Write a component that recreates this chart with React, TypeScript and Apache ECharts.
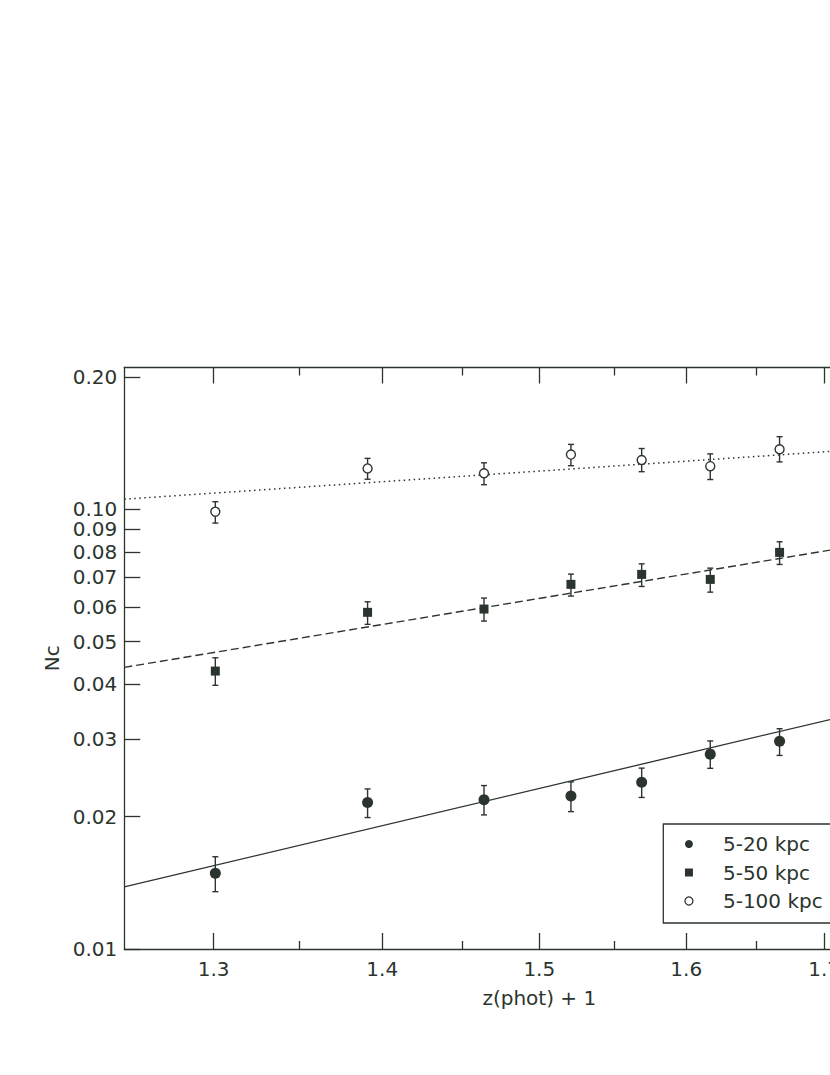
import React, { useEffect, useRef } from "react";
import * as echarts from "echarts";

// ---- data ----
const X_VALUES = [1.301, 1.391, 1.464, 1.521, 1.569, 1.617, 1.667];

const NC_20 = [0.01486, 0.02154, 0.02185, 0.02227, 0.02394, 0.02774, 0.02968];
const NC_20_LO = [0.0135, 0.0199, 0.02018, 0.02053, 0.02211, 0.02575, 0.02755];
const NC_20_HI = [0.01621, 0.02312, 0.02353, 0.02399, 0.02578, 0.02972, 0.03169];

const NC_50 = [0.04285, 0.05828, 0.05929, 0.06747, 0.07108, 0.06925, 0.07977];
const NC_50_LO = [0.03977, 0.05472, 0.05568, 0.06346, 0.06673, 0.06478, 0.07489];
const NC_50_HI = [0.04594, 0.06159, 0.0628, 0.0712, 0.07513, 0.07345, 0.08433];

const NC_100 = [0.0987, 0.1238, 0.1207, 0.1331, 0.1294, 0.1253, 0.1369];
const NC_100_LO = [0.093, 0.117, 0.1137, 0.1256, 0.1217, 0.1168, 0.1281];
const NC_100_HI = [0.104, 0.1305, 0.1275, 0.1404, 0.1374, 0.1336, 0.1462];

// fitted power laws (end points)
const FIT_X = [1.25, 1.8];
const FIT_20 = [0.01385, 0.03879];
const FIT_50 = [0.04369, 0.08994];
const FIT_100 = [0.1054, 0.1414];

const SERIES_NAMES = ["5-20 kpc", "5-50 kpc", "5-100 kpc"];

const X_MIN = 1.25;
const X_MAX = 1.8;
const Y_MIN = 0.01;
const Y_MAX = 0.21;
const X_TICKS = [1.3, 1.4, 1.5, 1.6, 1.7, 1.8];
const X_MINOR_TICKS = [1.35, 1.45, 1.55, 1.65, 1.75];
const Y_TICKS = [0.01, 0.02, 0.03, 0.04, 0.05, 0.06, 0.07, 0.08, 0.09, 0.1, 0.2];

const X_TITLE = "z(phot) + 1";
const Y_TITLE = "Nc";

const C = "#2b352e";
const FONT = "DejaVu Sans";

const lg = (v: number) => Math.log10(v);

function pairs(xs: number[], ys: number[]) {
  return xs.map((x, i) => [lg(x), lg(ys[i])]);
}
function bars(xs: number[], lo: number[], hi: number[]) {
  return xs.map((x, i) => [lg(x), lg(lo[i]), lg(hi[i])]);
}

const errorRender = (params: any, api: any) => {
  const x = api.value(0);
  const p1 = api.coord([x, api.value(1)]);
  const p2 = api.coord([x, api.value(2)]);
  const cap = 3;
  const style = { stroke: C, lineWidth: 1.4 };
  return {
    type: "group",
    children: [
      { type: "line", shape: { x1: p1[0], y1: p1[1], x2: p2[0], y2: p2[1] }, style },
      { type: "line", shape: { x1: p1[0] - cap, y1: p1[1], x2: p1[0] + cap, y2: p1[1] }, style },
      { type: "line", shape: { x1: p2[0] - cap, y1: p2[1], x2: p2[0] + cap, y2: p2[1] }, style },
    ],
  };
};

const SQUARE = "path://M0,0L10,0L10,10L0,10Z";

export default function App() {
  const ref = useRef<HTMLDivElement>(null);

  useEffect(() => {
    if (!ref.current) return;
    const chart = echarts.init(ref.current, undefined, { renderer: "svg" });

    const axisLine = { show: true, onZero: false, lineStyle: { color: C, width: 1.3 } };
    const tickStyle = { color: C, width: 1.3 };
    const labelText = { color: C, fontSize: 20, fontFamily: FONT };

    const xBase = {
      type: "value",
      min: lg(X_MIN),
      max: lg(X_MAX),
      splitLine: { show: false },
      axisLine,
    };
    const yBase = {
      type: "value",
      min: lg(Y_MIN),
      max: lg(Y_MAX),
      splitLine: { show: false },
      axisLine,
    };

    const option: any = {
      animation: false,
      backgroundColor: "#ffffff",
      grid: {
        left: 124.3,
        top: 367.5,
        width: 830,
        height: 581.5,
        containLabel: false,
        outerBoundsMode: "none",
      },
      xAxis: [
        {
          ...xBase,
          position: "bottom",
          axisTick: { show: true, inside: true, length: 16, customValues: X_TICKS.map(lg), lineStyle: tickStyle },
          axisLabel: {
            show: true,
            customValues: X_TICKS.map(lg),
            formatter: (v: number) => Math.pow(10, v).toFixed(1),
            margin: 10,
            ...labelText,
          },
          name: X_TITLE,
          nameLocation: "middle",
          nameGap: 39,
          nameTextStyle: labelText,
        },
        {
          ...xBase,
          position: "bottom",
          axisLine: { show: false },
          axisTick: { show: true, inside: true, length: 8, customValues: X_MINOR_TICKS.map(lg), lineStyle: tickStyle },
          axisLabel: { show: false },
        },
        {
          ...xBase,
          position: "top",
          axisTick: { show: true, inside: true, length: 16, customValues: X_TICKS.map(lg), lineStyle: tickStyle },
          axisLabel: { show: false },
        },
        {
          ...xBase,
          position: "top",
          axisLine: { show: false },
          axisTick: { show: true, inside: true, length: 8, customValues: X_MINOR_TICKS.map(lg), lineStyle: tickStyle },
          axisLabel: { show: false },
        },
      ],
      yAxis: [
        {
          ...yBase,
          position: "left",
          axisTick: { show: true, inside: true, length: 16, customValues: Y_TICKS.map(lg), lineStyle: tickStyle },
          axisLabel: {
            show: true,
            customValues: Y_TICKS.map(lg),
            formatter: (v: number) => Math.pow(10, v).toFixed(2),
            margin: 7,
            ...labelText,
          },
          name: Y_TITLE,
          nameLocation: "middle",
          nameGap: 58,
          nameTextStyle: labelText,
        },
        {
          ...yBase,
          position: "right",
          axisTick: { show: true, inside: true, length: 16, customValues: Y_TICKS.map(lg), lineStyle: tickStyle },
          axisLabel: { show: false },
        },
      ],
      legend: {
        left: 663.3,
        top: 824,
        orient: "vertical",
        padding: [10, 70, 12, 21],
        itemWidth: 52,
        itemHeight: 8,
        itemGap: 8.5,
        borderColor: C,
        borderWidth: 1.3,
        backgroundColor: "#ffffff",
        selectedMode: false,
        textStyle: { color: C, fontSize: 20, fontFamily: FONT, padding: [0, 0, 0, 3] },
        data: [
          { name: SERIES_NAMES[0], icon: "circle", itemStyle: { color: C, borderWidth: 0 } },
          { name: SERIES_NAMES[1], icon: SQUARE, itemStyle: { color: C, borderWidth: 0 } },
          {
            name: SERIES_NAMES[2],
            icon: "circle",
            itemStyle: { color: "#ffffff", borderColor: C, borderWidth: 1.3 },
          },
        ],
      },
      series: [
        {
          type: "line",
          data: pairs(FIT_X, FIT_20),
          symbol: "none",
          lineStyle: { color: C, width: 1.3, type: "solid" },
          z: 1,
          silent: true,
        },
        {
          type: "line",
          data: pairs(FIT_X, FIT_50),
          symbol: "none",
          lineStyle: { color: C, width: 1.4, type: [8, 4] },
          z: 1,
          silent: true,
        },
        {
          type: "line",
          data: pairs(FIT_X, FIT_100),
          symbol: "none",
          lineStyle: { color: C, width: 1.5, type: [1.5, 3.5] },
          z: 1,
          silent: true,
        },
        { type: "custom", renderItem: errorRender, data: bars(X_VALUES, NC_20_LO, NC_20_HI), encode: { x: 0, y: [1, 2] }, z: 2, silent: true },
        { type: "custom", renderItem: errorRender, data: bars(X_VALUES, NC_50_LO, NC_50_HI), encode: { x: 0, y: [1, 2] }, z: 2, silent: true },
        { type: "custom", renderItem: errorRender, data: bars(X_VALUES, NC_100_LO, NC_100_HI), encode: { x: 0, y: [1, 2] }, z: 2, silent: true },
        {
          name: SERIES_NAMES[0],
          type: "scatter",
          data: pairs(X_VALUES, NC_20),
          symbol: "circle",
          symbolSize: 11,
          itemStyle: { color: C, opacity: 1 },
          z: 3,
        },
        {
          name: SERIES_NAMES[1],
          type: "scatter",
          data: pairs(X_VALUES, NC_50),
          symbol: "rect",
          symbolSize: 9,
          itemStyle: { color: C, opacity: 1 },
          z: 3,
        },
        {
          name: SERIES_NAMES[2],
          type: "scatter",
          data: pairs(X_VALUES, NC_100),
          symbol: "circle",
          symbolSize: 9,
          itemStyle: { color: "#ffffff", borderColor: C, borderWidth: 1.4, opacity: 1 },
          z: 3,
        },
      ],
    };

    chart.setOption(option);
    return () => chart.dispose();
  }, []);

  return (
    <div
      style={{
        position: "fixed",
        left: 0,
        top: 0,
        width: 830,
        height: 1075,
        overflow: "hidden",
        background: "#ffffff",
      }}
    >
      <div ref={ref} style={{ width: 1000, height: 1075 }} />
    </div>
  );
}
